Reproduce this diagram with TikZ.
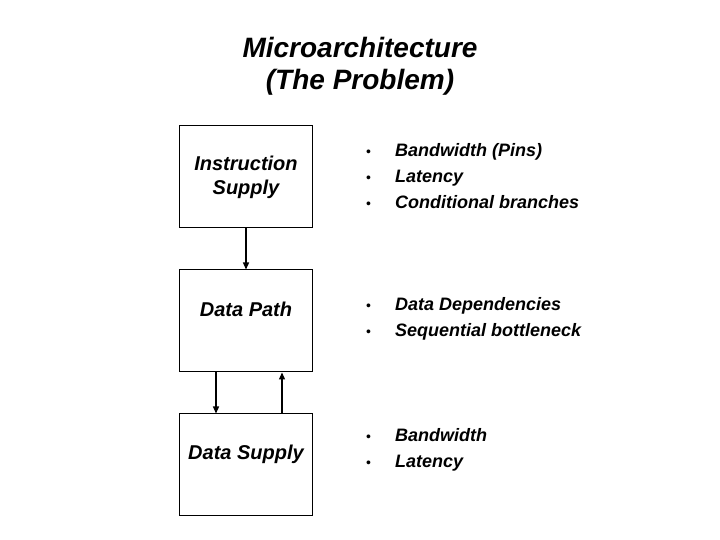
\documentclass[tikz,border=0pt]{standalone}
\usepackage{fontspec}
\setmainfont{Liberation Sans}
\usetikzlibrary{arrows.meta,positioning}
\newcommand{\bul}{{\normalfont\fontsize{14}{14}\selectfont\textbullet}}

\begin{document}
\begin{tikzpicture}[x=1pt,y=1pt,
  blk/.style={draw,line width=1pt,minimum width=133pt,minimum height=102pt,inner sep=0pt},
  lbl/.style={align=center,font=\fontsize{20}{24}\selectfont\bfseries\itshape},
  lst/.style={anchor=west,inner sep=0pt,font=\fontsize{18}{26}\selectfont\bfseries\itshape},
  fl/.style={-{Triangle[length=7pt,width=6pt]},line width=1.3pt},
]
\useasboundingbox (0,0) rectangle (720,540);
\node[align=center,font=\fontsize{28}{32}\selectfont\bfseries\itshape] (title) at (360,474) {Microarchitecture\\(The Problem)};
% the three blocks
\node[blk] (isup) at (246,363) {};
\node[blk,below=41pt of isup] (dpath) {};
\node[blk,below=41pt of dpath] (dsup) {};
\node[lbl] (isupT) at (isup.center) {Instruction\\Supply};
\node[lbl] (dpathT) at ([yshift=12pt]dpath.center) {Data Path};
\node[lbl] (dsupT) at ([yshift=11pt]dsup.center) {Data Supply};
% problems
\node[lst] (isupL) at (366,363) {\begin{tabular}{@{}l@{\hspace{24pt}}l@{}}
  \bul & Bandwidth (Pins)\\ \bul & Latency\\ \bul & Conditional branches\end{tabular}};
\node[lst] (dpathL) at (366,222) {\begin{tabular}{@{}l@{\hspace{24pt}}l@{}}
  \bul & Data Dependencies\\ \bul & Sequential bottleneck\end{tabular}};
\node[lst] (dsupL) at (366,91) {\begin{tabular}{@{}l@{\hspace{24pt}}l@{}}
  \bul & Bandwidth\\ \bul & Latency\end{tabular}};
% flow
\draw[fl] (isup) -- (dpath);
\draw[fl] ([xshift=-30pt]dpath.south) -- ([xshift=-30pt]dsup.north);
\draw[fl] ([xshift=36pt]dsup.north) -- ([xshift=36pt]dpath.south);
\end{tikzpicture}
\end{document}
